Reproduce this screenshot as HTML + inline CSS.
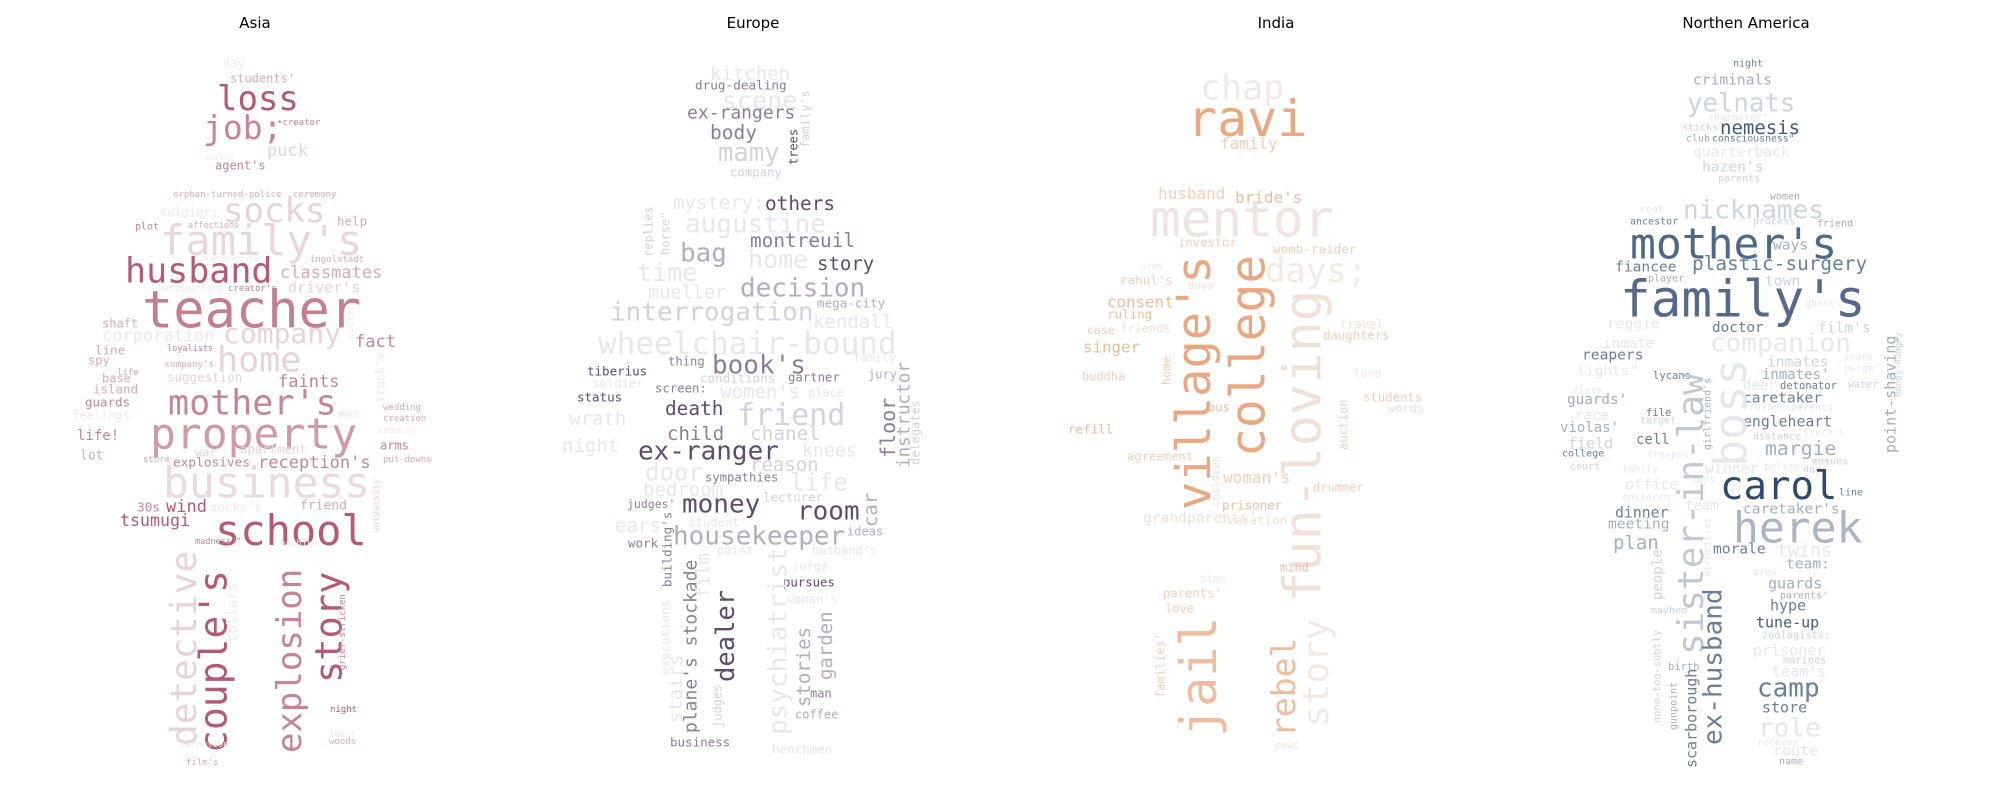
<!DOCTYPE html>
<html><head><meta charset="utf-8"><style>
html,body{margin:0;padding:0;background:#fff;}
svg{display:block;}
text{font-family:"DejaVu Sans Mono","Liberation Mono",monospace;}
.title{font-family:"DejaVu Sans","Liberation Sans",sans-serif;font-size:15px;fill:#000;}
</style></head><body>
<svg id="chart" width="2000" height="800" viewBox="0 0 2000 800" xmlns="http://www.w3.org/2000/svg">
<rect width="2000" height="800" fill="#fff"/>
<text class="title" x="255" y="28" text-anchor="middle">Asia</text>
<text class="title" x="753" y="28" text-anchor="middle">Europe</text>
<text class="title" x="1276" y="28" text-anchor="middle">India</text>
<text class="title" x="1746" y="28" text-anchor="middle">Northen America</text>
</svg>
<script>
// [word, x(left or column centre), y(centre or bottom for vertical), fontSize, shade level/colour, vertical]
const asiaPalette = ['#b45a74','#c58596','#d9aab7','#e8d2d8','#f2e6e9'];
const europePalette = ['#5f4b70','#8c7d9a','#b5abc0','#d6d0dc','#e8e5ec'];
const indiaPalette = ['#e9a882','#eebc9e','#f2cfb9','#f1e0d6','#f3e9e4'];
const naPalette = ['#3f5a7c','#6a7f9a','#a3afbf','#ccd4dd','#e4e8ed'];

const asiaWords = [
['day',223,63,12,4],["students'",230,78,12,2],['loss',217,98,34,0],['job;',203,127,33,1],
['•creator',277,122,9,1],['puck',267,150,17,3],['worker',205,157,8,4],["agent's",215,165,12,1],
['orphan-turned-police',173,194,9,2],['ceremony',293,194,9,2],['soldiers',160,212,12,4],['socks',223,210,34,3],
['help',337,221,12.5,2],['plot',135,226,10,1],['affections',188,225,8.5,2],["family's",160,240,42,'#ead5da'],
['organizations',202,258,7,4],['ingolstadt',310,259,9,2],['husband',125,270,35,0],['classmates',280,272,17,2],
['vaccinations',158,288,9,4],["creator's",228,288,9,1],["driver's",288,287,15,3],['teacher',142,309,52,'#c27f8f'],
['shaft',102,323,12,2],['corporation',102,335,17,4],['company',223,333,28,3],['victor',350,338,9,4,1],
['fact',355,341,17,1],['line',95,350,12.5,2],['loyalists',167,348,8.5,1],['home',217,359,35,3],
['spy',88,360,12,2],['life',117,372,9,2],["company's",165,364,9,2],["truck's",380,403,12,4,1],
['base',102,378,12,2],['suggestion',167,377,12.5,3],['faints',278,381,17,1],['island',93,389,12.5,2],
['guards',85,402,12.5,1],["mother's",168,402,35,1],['feelings',72,415,12,4],['men',338,414,12,4],
['property',150,433,43,'#cf9aa8'],['life!',77,435,14,1],['lot',80,455,13,2],['war',195,452,12,3],
['apartment',240,449,12.3,3],['store',143,459,9,2],['explosives',173,462,12.8,1],["reception's",258,462,17,1],
['business',163,482,43,'#ead9de'],['university',376,533,9,3,1],['30s',137,507,12.8,1],['wind',166,506,17,0],
["socks's",210,507,12.3,4],['friend',300,505,13,2],['tsumugi',120,520,16.6,0],['school',215,530,42,0],
['madness?"',195,541,8.5,1],['naohiko',280,543,9,4],
['wedding',383,407,9,2],['creation',383,418,9,2],['embassy',378,430,9,4],['arms',380,445,12,1],['put-downs',383,459,9,2],
['detective',183,746,36,3,1],["couple's",213,753,38,0,1],['explosion',289,753,34,1,1],['story',328,683,37,0,1],
['collars',232,642,14,4,1],['grief-stricken',342,670,9,1,1],['night',330,709,9,0],['toast',329,734,9,4],
['woods',329,741,9,2],['carnation',180,744,9,4],["film's",186,762,9,2]
];

const europeWords = [
['kitchen',710,73,19,4],['drug-dealing',695,85,12.7,1],['scene',722,100,25,4],["family's",805,148,12,3,1],
['ex-rangers',687,112,18,1],['trees',793,165,12,0,1],['body',710,132,19.5,1],['mamy',718,152,25.6,3],
['company',730,172,12.3,3],['mystery:',673,202,19,4],['others',765,203,19.4,0],['augustine',685,223,26,4],
['replies',648,257,12,3,1],['horse"',665,255,12,3,1],['bag',680,252,26,2],['montreuil',750,240,19.4,1],
['home',748,259,25,4],['story',817,263,19,0],['time',637,272,25,4],['decision',740,287,26,2],
['mueller',648,292,18.6,4],['mega-city',817,303,12.6,2],['interrogation',610,311,26,3],['kendall',813,321,19,4],
['wheelchair-bound',598,343,31,4],['thing',668,361,12.2,1],["book's",712,364,26,1],['family',853,357,12,4],
['tiberius',587,371,12.5,0],['conditions',700,378,12.5,3],['gartner',788,377,12.3,1],['jury',868,374,12,2],
['instructor',903,468,17.6,2,1],['delegates',915,465,12,3,1],['floor',888,458,20,1,1],['soldier',592,383,12.3,4],
['screen:',655,388,12.3,1],["women's",720,391,19,4],['place',808,392,12,4],['status',577,397,12.5,0],
['death',665,408,19.4,0],['friend',737,414,30,3],['wrath',569,418,19,4],['child',667,433,19,1],
['chanel',750,433,19.4,3],['night',562,445,19,4],['ex-ranger',638,450,26,0],['knees',802,450,18.3,4],
['reason',750,464,19,3],['door',645,472,24,4],['sympathies',705,477,12.2,1],['life',790,482,24,4],
['bedroom',643,489,19,4],["judges'",627,504,11.5,1],['money',682,503,26,0],['lecturer',763,497,12.5,3],
['room',797,510,26,0],['car',870,527,19,2,1],['ears',615,525,19,4],["building's",667,587,12.5,1,1],
['student',688,522,12.3,4],['housekeeper',673,535,26,2],['ideas',847,531,12,2],['work',628,543,12.5,1],
['point',717,550,12,4],["husband's",812,550,12,4],['jorge',792,566,12,4],['pursues',783,582,12.3,0],
["woman's",787,599,12,4],['dealer',725,682,25.5,0,1],["plane's stockade",690,733,18,1,1],['film',703,598,18.7,4,1],
['stairs',675,723,19,4,1],['executions',665,675,12.5,4,1],['judges',717,728,12,3,1],['psychiatrist',777,735,26,4,1],
['stories',803,707,19,2,1],['garden',825,680,19,2,1],['man',810,693,12,1],['coffee',795,714,12,2],
['business',670,742,12.5,1],['henchmen',772,749,12.5,4]
];

const indiaWords = [
['chap',1200,87,35,4],['ravi',1187,118,50,0],['family',1220,143,16,2],['husband',1158,193,16,2],
["bride's",1235,197,16,1],['mentor',1150,218,51,'#efe4df'],['investor',1178,242,12.2,2],['womb-raider',1273,249,12.6,2],
['days;',1265,270,34,4],['army',1140,266,10,4],["rahul's",1120,280,12.6,2],['daya',1188,285,10.5,3],
["village's",1193,510,47,0,1],['college',1247,457,48,0,1],['fun-loving',1302,603,52,3,1],['story',1315,727,36,4,1],
['rebel',1283,737,33,1,1],['jail',1198,737,50,1,1],["families'",1160,698,12,2,1],['cows',1275,745,10,3],
['time',1200,578,11,4],["parents'",1163,593,12.2,2],['love',1165,608,12,2],['mind',1280,567,12,1],
['consent',1107,302,15.8,1],['ruling',1107,314,12.5,1],['case',1087,330,11.5,2],['friends',1120,328,12,3],
['singer',1083,347,15.8,1],['buddha',1082,376,12,2],['home',1166,385,12,2,1],['bus',1208,407,12,1],
['refill',1068,429,12.5,1],['agreement',1127,456,12.2,2],['children',1215,507,10.6,3,1],["woman's",1223,477,16,2],
['prisoner',1222,505,12.5,1],['vacation',1227,520,12.5,3],["grandparents'",1143,517,14.6,3],['drummer',1313,487,12,2],
['travel',1340,324,12,3],['daughters',1323,335,12.3,2],['land',1353,373,12,4],['students',1363,397,12.3,2],
['words',1388,408,12,3],['auction',1343,450,12,2,1]
];

const naWords = [
['night',1733,63,10,1],['criminals',1693,79,14.6,2],['yelnats',1687,102,25.7,3],['character"',1708,117,10,4],
['sticks',1682,127,10,3],['nemesis',1720,127,19,0],['club',1686,138,10,2],['consciousness"',1712,138,9.8,1],
['quarterback',1693,151,14.6,4],["hazen's",1702,166,14.6,3],['parents',1718,178,10,3],['women',1770,196,10,2],
['coat',1640,209,10,4],['nicknames',1683,209,26,3],['ancestor',1630,221,10,1],['process',1753,221,10,3],
['friend',1817,223,10,2],["mother's",1630,243,43,'#4e6888'],['ways',1773,244,14.6,2],['fiancee',1615,266,14.6,1],
['plastic-surgery',1692,263,19.4,1],['player',1648,278,10,2],['town',1765,280,14.6,3],["family's",1620,298,51,'#55698a'],
['ghosts',1805,303,10,4],['reggie',1607,323,14.6,4],['doctor',1712,327,14.3,1],["film's",1818,327,14.6,3],
['inmate',1603,343,14.3,4],['companion',1710,342,26,4],['point-shaving',1890,453,15,2,1],['money-hungry',1898,397,9,3,1],
['reapers',1582,354,14.6,1],['inmates',1767,361,14.6,3],['years',1843,357,10,4],['lights"',1577,370,14.6,4],
['purge"',1844,368,10,4],['lycans',1653,375,10.5,1],["inmates'",1762,374,14,2],["girlfriend's",1707,450,10,2,1],
['deer',1743,385,14,4],['detonator',1780,385,10.5,1],['water',1848,384,10,3],['clerk',1573,390,10,4],
["guards'",1567,399,14.3,2],['caretaker',1743,397,14.6,1],['trainer-parents',1743,407,10,4],['race',1575,415,14,4],
['file',1646,412,10.5,1],['target',1640,420,10,3],['engleheart',1743,421,14.8,1],["violas'",1560,427,14,2],
["truck's",1803,432,10,4],['distance',1753,436,10,3],['field',1568,443,15,3],['cell',1636,439,14,1],
['margie',1765,448,19.8,2],['college',1562,453,10,1],['friends',1647,455,10,4],['court',1570,466,10,3],
['family',1622,469,10,4],['winner',1705,468,14.8,4],['police',1764,466,10,4],['ensues',1812,461,10,3],
['day',1803,469,10,3],['office',1625,484,14.8,4],['boys',1691,479,10,4],['carol',1720,485,39,'#2e4a6e'],
['line',1839,492,10,1],['children',1622,497,10,4],['team',1685,505,14,4],['dinner',1615,512,14.8,1],
["caretaker's",1743,508,14.6,2],['meeting',1608,523,14.6,2],['herek',1733,527,43,'#aab4c2'],['atrocities',1707,577,10,4,1],
['plan',1613,542,19,2],['morale',1713,548,14.6,1],['twins',1777,550,18.3,4],['team:',1786,563,14.6,2],
['area',1753,572,10,4],['boss',1730,467,45,4,1],['sister-in-law',1690,655,36,'#c0c8d2',1],['ex-husband',1712,745,26,1,1],
['scarborough',1691,768,15,1,1],['none-too-subtly',1657,723,10.3,3,1],['gunpoint',1673,730,10,2,1],['birth',1668,666,10.5,2],
['mayhem',1651,610,10,3],['people',1657,600,14,3,1],['guards',1768,583,15,2],["parents'",1780,595,10,2],
['hype',1770,605,15,1],['tune-up',1756,622,15,0],['zoologists:',1762,635,10.3,3],['prisoner',1753,650,15,4],
['marines',1783,660,10.3,3],["team's",1772,671,15,4],['camp',1757,687,26,1],['store',1762,707,15,1],
['role',1758,727,26,4],['recover',1757,742,10,4],['route',1773,750,15,4],['name',1779,761,10,2]
];

const svg = document.getElementById('chart');
const NS = 'http://www.w3.org/2000/svg';
function drawPanel(words, palette, panelName) {
  const g = document.createElementNS(NS, 'g');
  
  
  svg.appendChild(g);
  words.forEach(function (w) {
    const t = document.createElementNS(NS, 'text');
    
    
    const fs = w[3];
    const col = typeof w[4] === 'string' ? w[4] : palette[w[4]];
    t.setAttribute('font-size', fs);
    t.setAttribute('fill', col);
    if (w[5]) {
      const bx = w[1] + 0.36 * fs;
      const by = w[2];
      t.setAttribute('x', bx);
      t.setAttribute('y', by);
      t.setAttribute('transform', 'rotate(-90 ' + bx + ' ' + by + ')');
    } else {
      t.setAttribute('x', w[1]);
      t.setAttribute('y', w[2] + 0.36 * fs);
    }
    t.textContent = w[0];
    g.appendChild(t);
  });
}
drawPanel(asiaWords, asiaPalette, 'asia-word-cloud');
drawPanel(europeWords, europePalette, 'europe-word-cloud');
drawPanel(indiaWords, indiaPalette, 'india-word-cloud');
drawPanel(naWords, naPalette, 'northen-america-word-cloud');
</script>
</body></html>
